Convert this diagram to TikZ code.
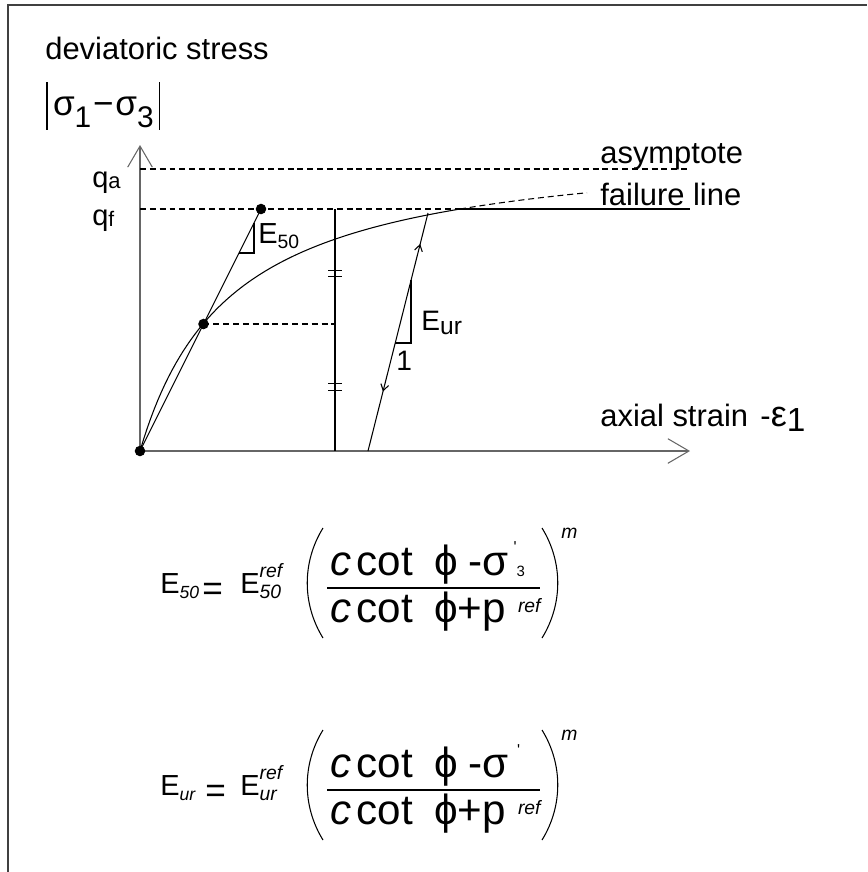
\documentclass[tikz,border=0pt]{standalone}
\usepackage{fontspec}
\setmainfont{Liberation Sans}
\newfontfamily\grk{Liberation Sans}
\usetikzlibrary{arrows.meta, decorations.markings}
\newcommand\fsz[1]{\fontsize{#1}{#1}\selectfont}

\tikzset{
  %% ---- lines ----
  boxline/.style  = {line width=1.1pt, draw=black!75},
  axisline/.style = {line width=1pt, draw=black!60,
                     -{Straight Barb[length=12pt, width=14pt, line width=0.6pt]}},
  plotline/.style = {line width=0.6pt},
  guide/.style    = {line width=0.6pt, dash pattern=on 3.4pt off 2.2pt},
  tickline/.style = {line width=0.5pt},
  flow/.style     = {postaction={decorate}, decoration={markings,
                     mark=at position 0.87 with {\arrow{Straight Barb[length=3.5pt, width=4.5pt]}},
                     mark=at position 0.25 with {\arrowreversed{Straight Barb[length=3.5pt, width=4.5pt]}}}},
  %% ---- nodes ----
  dot/.style      = {circle, fill=black, inner sep=0pt, minimum size=6pt},
  lbl/.style      = {anchor=base west, inner sep=0pt, font=\fsz{17.6}},
}

\begin{document}
\begin{tikzpicture}[x=0.02cm, y=-0.02cm]
\useasboundingbox (0,0) rectangle (867,872);
\draw[boxline] (8,872) -- (8,5) -- (867,5);

% axes
\coordinate (O)  at (140,451);
\coordinate (Pf) at (261,209);
\coordinate (Ph) at (203.5,324);
\coordinate (U0) at (368,451);
\coordinate (U1) at (428,213);
\draw[axisline] (O) -- (140,145);
\draw[axisline] (O) -- (690,451);

% asymptote and failure level
\draw[guide] (140,169) -- (690,169);
\draw[guide] (140,209) -- (460,209);
\draw[plotline] (460,209) -- (690,209);

% hyperbolic curve
\draw[plotline] plot[domain=0:320, samples=90] ({140+\x},{451-311*(\x/(91.3+\x))});
\draw[guide] plot[domain=320:447, samples=30] ({140+\x},{451-311*(\x/(91.3+\x))});

% secant modulus E50
\draw[plotline] (O) -- (Pf);
\draw[plotline] (239,253) -- (254,253) -- (254,223);
\draw[guide] (Ph) -- (335,324);
\draw[plotline] (335,209) -- (335,451);
\foreach \ty in {270,276.5,383.5,390}
  \draw[tickline] (328,\ty) -- (342,\ty);
\node[dot] (d0) at (O)  {};
\node[dot] (d1) at (Ph) {};
\node[dot] (d2) at (Pf) {};

% unloading / reloading
\draw[plotline, flow] (U0) -- (U1);
\draw[plotline] (395.2,343) -- (411,343) -- (411,280.4);

% labels
\node[lbl] (dev) at (45,59) {deviatoric stress};
\node[lbl, font=\fsz{20}] (sig) at (46,115)
  {\rule[-8.5pt]{0.8pt}{27.3pt}\hspace{3pt}σ\raisebox{-7pt}{\fsz{17}1}\hspace{1pt}−\hspace{1pt}σ\raisebox{-7pt}{\fsz{17}3}\hspace{3pt}\rule[-8.5pt]{0.8pt}{27.3pt}};
\node[lbl, font=\fsz{16.5}] (qa) at (92,187) {q\raisebox{-1pt}{\fsz{12.5}a}};
\node[lbl, font=\fsz{16.5}] (qf) at (92,225) {q\raisebox{-1pt}{\fsz{12}f}};
\node[lbl] (asy)  at (600,163) {asymptote};
\node[lbl] (fail) at (600,205) {failure line};
\node[lbl] (eps)  at (600,426) {axial strain\hspace{7pt}-{\fsz{20.5}ε}\raisebox{-3pt}{\fsz{19}1}};
\node[lbl, font=\fsz{16.5}] (e50) at (258,243) {E\raisebox{-3.4pt}{\fsz{11}50}};
\node[lbl, font=\fsz{16}] (eur) at (421,330) {E\raisebox{-2.8pt}{\fsz{14}ur}};
\node[lbl, font=\fsz{16}] (one) at (396,370) {1};

% stiffness formulas
\foreach \dy/\sub/\eqx/\numend in {0/50/202/{σ\hspace{3pt}\raisebox{13pt}{\fsz{9}\textquotesingle}\raisebox{-1pt}{\fsz{8.5}3}},
                                   202/ur/205/{σ\hspace{5pt}\raisebox{12pt}{\fsz{9}\textquotesingle}}}{
  \node[lbl, font=\fsz{16.5}] (lhs\dy) at (160,593+\dy) {E\raisebox{-3pt}{\fsz{10}\itshape\sub}};
  \node[lbl, font=\fsz{20}] (eq\dy) at (\eqx,600+\dy) {=};
  \node[lbl, font=\fsz{16.5}] (rhs\dy) at (240,593+\dy)
    {E\rlap{\raisebox{9pt}{\fsz{11}\itshape ref}}\raisebox{-3pt}{\fsz{11}\itshape\sub}};
  \node[lbl, font=\fsz{24}] (num\dy) at (330,575+\dy)
    {\textit{c}\hspace{3pt}cot\hspace{12pt}{\grk ϕ}\hspace{6pt}-\numend};
  \node[lbl, font=\fsz{24}] (den\dy) at (330,622+\dy)
    {\textit{c}\hspace{3pt}cot\hspace{12pt}{\grk ϕ}+p\hspace{7pt}\raisebox{5.5pt}{\fsz{11}\itshape ref}};
  \node[lbl, font=\fsz{11}\itshape] (m\dy) at (561,538+\dy) {m};
  \draw[plotline] (327,588+\dy) -- (540,588+\dy);
  \draw[plotline] (323,528+\dy) .. controls (302,562+\dy) and (302,604+\dy) .. (323,638+\dy);
  \draw[plotline] (542,528+\dy) .. controls (563,562+\dy) and (563,604+\dy) .. (542,638+\dy);
}
\end{tikzpicture}
\end{document}
